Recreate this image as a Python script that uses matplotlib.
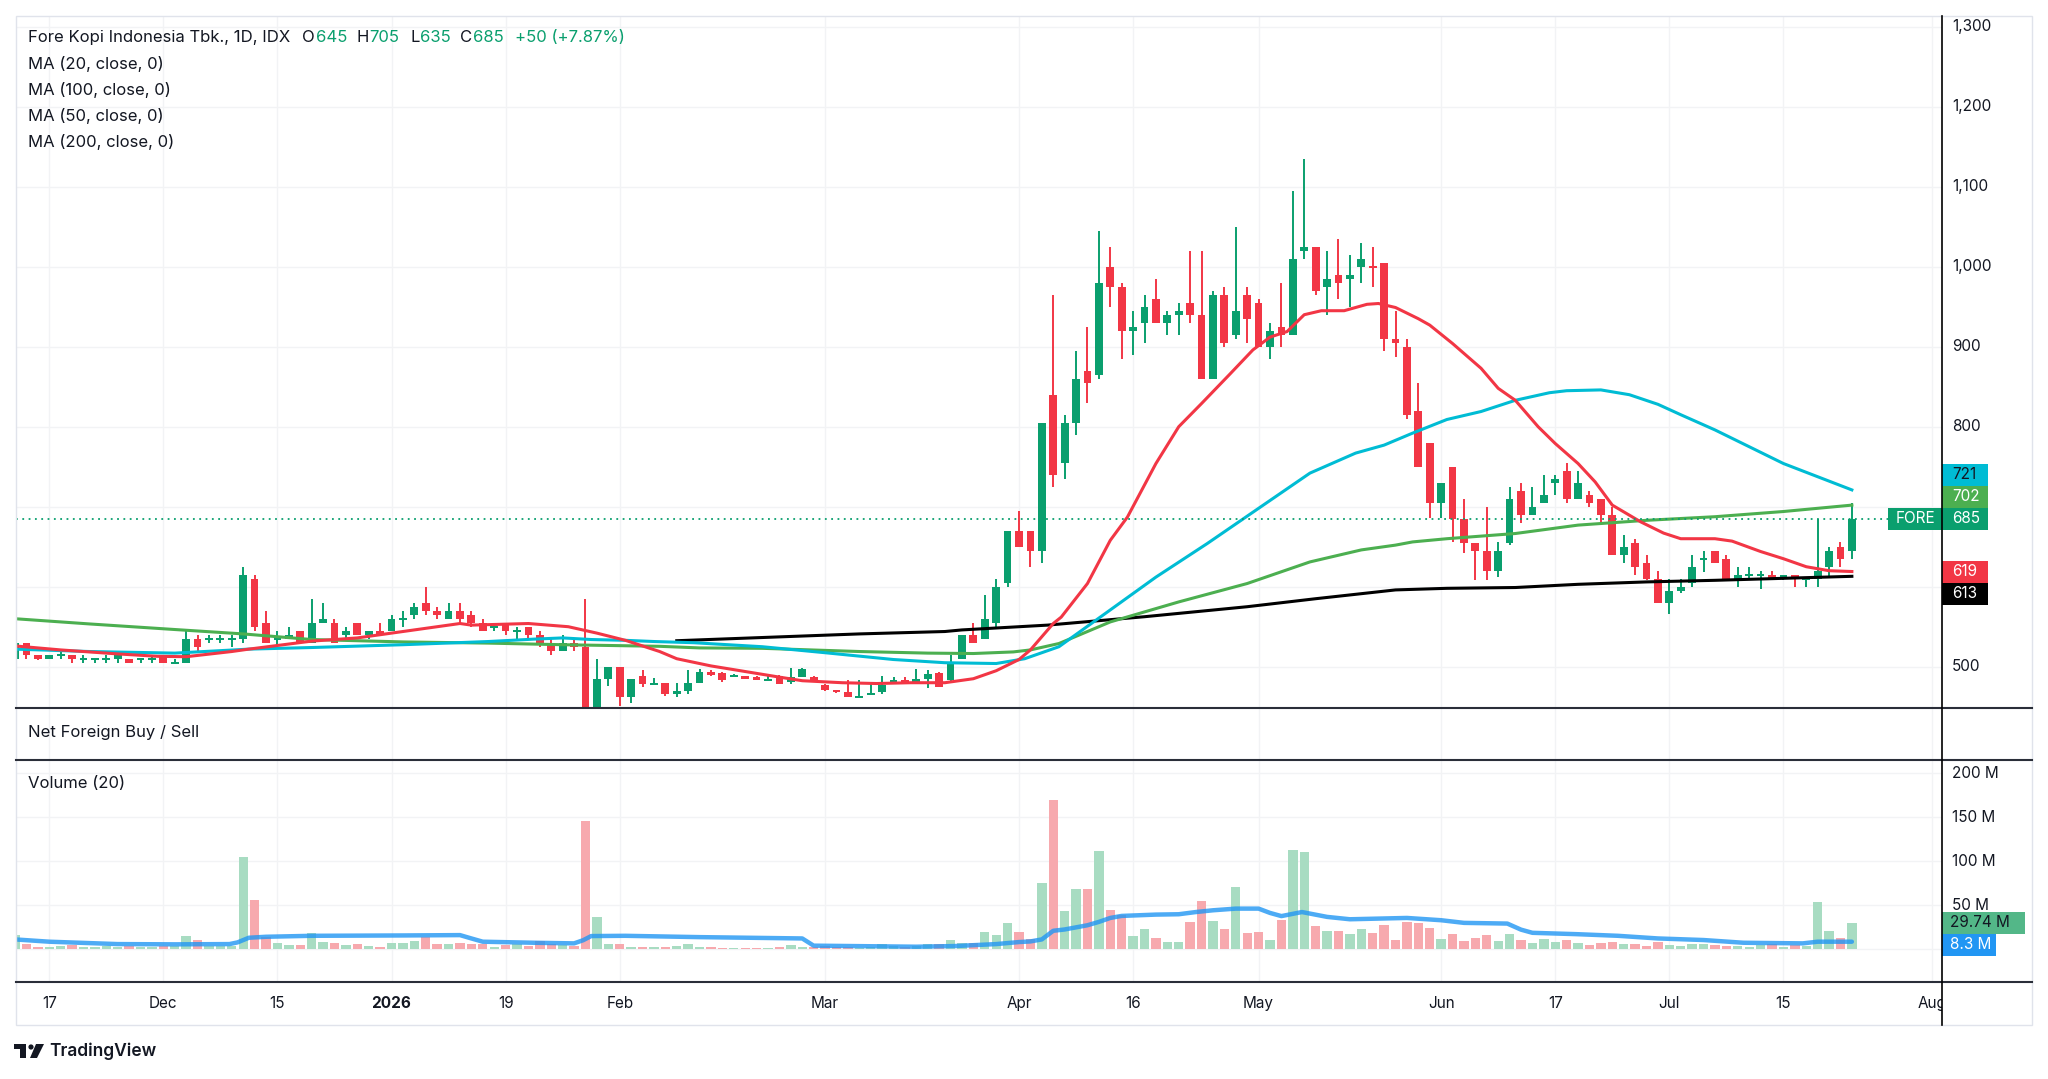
import matplotlib
matplotlib.use("Agg")
import matplotlib.pyplot as plt
from matplotlib.patches import Rectangle, Polygon, Circle
import numpy as np

plt.rcParams['font.family'] = ['Inter', 'DejaVu Sans']

# ---- daily bars, FORE (IDX), Nov 2025 .. Jul 2026 ----
opens = [510, 530, 515, 510, 515, 515, 510, 510, 510, 510,
         510, 510, 510, 515, 505, 505, 535, 535, 535, 535,
         535, 610, 555, 535, 535, 545, 530, 555, 555, 540,
         555, 540, 545, 545, 560, 565, 580, 570, 560, 570,
         565, 555, 550, 555, 545, 550, 540, 530, 520, 530,
         525, 450, 485, 500, 462, 488, 478, 480, 466, 470,
         480, 494, 492, 488, 488, 487, 483, 488, 481, 487,
         487, 477, 470, 468, 462, 466, 468, 481, 484, 481,
         485, 492, 484, 510, 540, 535, 555, 605, 670, 670,
         645, 840, 755, 805, 870, 865, 1000, 975, 920, 930,
         960, 930, 940, 955, 940, 860, 965, 915, 965, 955,
         900, 925, 915, 1020, 1025, 975, 990, 985, 1000, 1000,
         1005, 910, 900, 820, 780, 705, 750, 685, 655, 645,
         620, 655, 720, 690, 705, 730, 745, 710, 715, 710,
         690, 640, 655, 630, 610, 580, 595, 605, 635, 645,
         635, 610, 615, 615, 615, 610, 615, 610, 610, 625,
         650, 645]
highs = [545, 530, 515, 515, 520, 515, 515, 510, 515, 515,
         510, 510, 515, 515, 510, 545, 540, 540, 540, 540,
         625, 615, 570, 545, 550, 545, 585, 580, 560, 550,
         555, 545, 555, 565, 570, 580, 600, 575, 580, 580,
         570, 560, 555, 555, 550, 550, 545, 535, 540, 535,
         585, 510, 500, 500, 485, 496, 486, 480, 480, 496,
         497, 496, 494, 491, 488, 488, 490, 490, 499, 498,
         488, 479, 470, 483, 484, 478, 489, 487, 487, 497,
         496, 493, 515, 540, 555, 590, 610, 670, 695, 670,
         805, 965, 815, 895, 925, 1045, 1025, 980, 945, 965,
         985, 945, 955, 1020, 1020, 970, 975, 1050, 975, 960,
         930, 980, 1095, 1135, 1025, 1020, 1035, 1015, 1030, 1025,
         1005, 945, 910, 855, 780, 730, 750, 710, 655, 700,
         656, 725, 730, 725, 740, 740, 755, 745, 720, 710,
         700, 665, 660, 640, 620, 610, 610, 640, 645, 645,
         640, 625, 625, 620, 620, 615, 615, 612, 685, 650,
         656, 705]
lows = [505, 510, 508, 510, 510, 505, 505, 505, 505, 505,
        505, 505, 505, 505, 505, 505, 520, 530, 530, 525,
        530, 545, 530, 525, 535, 530, 530, 555, 530, 535,
        540, 535, 540, 545, 550, 560, 565, 560, 560, 555,
        550, 545, 545, 540, 535, 535, 525, 515, 520, 520,
        446, 446, 476, 451, 455, 475, 478, 464, 462, 466,
        480, 488, 481, 487, 485, 483, 482, 479, 478, 487,
        484, 470, 467, 462, 462, 466, 466, 481, 480, 481,
        473, 475, 482, 510, 530, 535, 550, 600, 650, 625,
        630, 725, 735, 790, 830, 860, 950, 885, 890, 905,
        930, 915, 915, 930, 860, 860, 900, 910, 905, 900,
        885, 900, 915, 1010, 965, 940, 960, 950, 980, 975,
        895, 887, 810, 750, 686, 686, 656, 642, 608, 608,
        612, 652, 680, 690, 705, 715, 705, 710, 700, 680,
        640, 630, 615, 608, 580, 566, 592, 600, 618, 630,
        610, 600, 608, 597, 610, 608, 600, 600, 600, 612,
        625, 635]
closes = [530, 515, 510, 515, 515, 510, 510, 510, 510, 515,
          505, 510, 510, 505, 505, 535, 525, 535, 535, 535,
          615, 550, 530, 535, 540, 530, 555, 560, 530, 545,
          540, 545, 540, 560, 560, 575, 570, 565, 570, 560,
          555, 545, 550, 545, 545, 540, 530, 520, 530, 525,
          446, 485, 500, 462, 485, 478, 480, 466, 470, 480,
          494, 490, 484, 488, 485, 483, 485, 479, 487, 497,
          484, 471, 468, 462, 464, 468, 477, 484, 480, 485,
          491, 475, 505, 540, 530, 560, 600, 670, 650, 645,
          805, 740, 805, 860, 855, 980, 975, 920, 925, 950,
          930, 940, 945, 940, 860, 965, 905, 945, 935, 900,
          920, 915, 1010, 1025, 970, 985, 980, 990, 1010, 1000,
          910, 905, 815, 750, 705, 730, 685, 655, 645, 620,
          645, 710, 690, 700, 715, 735, 710, 730, 705, 690,
          640, 650, 625, 610, 580, 595, 600, 625, 635, 630,
          610, 615, 615, 615, 610, 615, 610, 610, 620, 645,
          635, 685]
# volume, millions of shares
volumes = [15.8, 6, 2.3, 2.3, 3.8, 4.9, 2.3, 2.3, 3.8, 2.3,
           3.8, 2.3, 2.3, 3, 3, 15, 10, 3.8, 3.8, 3.8,
           105, 55.3, 13.2, 6.8, 4.5, 4.5, 18, 7.9, 6.8, 4.5,
           5.6, 3.4, 2.3, 6.8, 6.8, 8.6, 13.2, 5.6, 5.6, 6.8,
           5.6, 5.6, 2.3, 4.5, 5.6, 3.8, 8.6, 5.6, 4.5, 3.8,
           145.5, 36.5, 6, 5.6, 2.3, 2.3, 2.3, 2.3, 3.4, 5.6,
           2.3, 2.3, 1.5, 1.5, 1.5, 1.5, 1.5, 2.3, 4.5, 2.3,
           2.3, 3, 2.3, 2.3, 1.5, 2.3, 5.6, 3, 2.3, 3,
           5.6, 5.6, 10.2, 6.4, 6.4, 19.6, 15.8, 30, 19.6, 10.9,
           75.2, 169, 42.9, 68.4, 67.7, 111.7, 44, 38.4, 15, 22.9,
           12, 7.9, 7.9, 30.8, 54.5, 31.6, 22.2, 70, 18, 18.8,
           10.2, 33, 112.8, 110.5, 25.9, 19.9, 19.9, 16.5, 22.9, 18,
           27.1, 10.2, 30.5, 29.3, 23.7, 11.3, 16.5, 9.4, 12, 15.8,
           8.6, 16.5, 10.2, 6.8, 11.3, 7.9, 10.2, 6.8, 4.9, 6.8,
           7.9, 6, 5.6, 3.8, 7.9, 4.9, 3.8, 5.6, 5.6, 4.9,
           3.8, 3.8, 2.3, 4.9, 5.6, 2.3, 4.5, 3.8, 53, 19.9,
           12, 29.74]

# moving averages (bar index, value)
ma20_x = [0, 4, 9, 12.5, 15, 19, 20.5, 26, 30, 34, 39, 40, 45, 48.5, 51, 53.5, 56.5, 58, 61, 64, 67, 69,
          72.5, 75.5, 78.5, 81.5, 84, 86, 88, 89, 91, 91.7, 94, 96, 97.5, 100, 102, 104, 106.5, 108.5,
          110, 111.5, 113, 114.5, 116.5, 118.5, 119.5, 121, 123, 124, 126, 128.5, 130, 131.5, 133.5, 135,
          137, 138.5, 140, 142.5, 144.5, 146, 149, 150.5, 153, 155, 157, 159, 161]
ma20_y = [526, 521, 516, 513, 512.5, 519, 522, 532, 536, 544, 554, 552, 554, 550, 542, 533, 519, 510, 501, 494,
          487, 482.5, 480, 479, 480, 480, 485, 495, 509, 521, 554, 562, 604, 658, 687, 754, 800, 829, 866,
          896, 912, 919, 940, 945, 945, 953, 954, 949, 935, 927, 904, 873, 848, 833, 800, 779, 754, 731, 702,
          681, 667, 660, 660, 657, 644, 635, 625, 620, 619]
ma50_x = [0, 6.5, 14, 20.5, 26, 34, 41.5, 45.5, 48, 50.5, 53.5, 56, 59.5, 65.5, 71, 77, 81.5, 86, 88.5, 91.5,
          96, 100, 104.5, 109, 113.5, 117.5, 120, 122.5, 125.5, 128.5, 131.5, 134.5, 136, 139, 141.5, 144,
          146, 149, 152, 155, 158, 161]
ma50_y = [522, 519, 517, 522, 524, 527.5, 531.5, 534.5, 536, 534, 533, 531.5, 530, 525, 517.5, 509, 505, 504,
          510, 525, 571, 612, 654, 698, 742, 767, 777, 792, 809, 819, 833, 842.5, 845, 846, 840, 828, 815,
          796, 775, 754, 737.5, 721]
ma100_x = [0, 6.5, 14, 20, 26, 34, 41.5, 48, 56.5, 60, 65.5, 74, 80, 84, 87.5, 89, 91.5, 96, 102, 108, 113.5,
           118, 121, 122.5, 125.5, 131.5, 137, 143, 149, 155, 161]
ma100_y = [560, 553.5, 546.5, 541, 534, 531, 529.5, 527.5, 525.5, 523.5, 523, 519, 517, 516.5, 518.5, 521, 529,
           556, 581, 604, 631, 646, 652, 656, 660, 666.5, 677, 683, 687.5, 694, 702]
ma200_x = [58, 65.5, 74, 81.5, 83, 90.5, 99, 108, 114, 121, 125.5, 131.5, 137, 143, 149, 155, 161]
ma200_y = [532.5, 536.5, 541, 544, 546, 552, 562.5, 575, 585, 596, 598, 599, 603, 606, 608, 610.5, 613]
volma_x = [0, 3, 9, 14, 18.8, 19.5, 20.5, 22, 26, 34, 39, 40, 41, 45.5, 49, 49.8, 50.5, 53.5, 60, 69, 70, 79,
           82.5, 86, 88, 89, 90, 91, 92, 94, 95, 96, 97, 100, 102, 103.5, 105, 107, 109, 110, 111, 112.8,
           115, 117, 122, 125, 127, 130.8, 132, 133, 136.8, 140.5, 144, 148, 151.5, 156.7, 158, 161]
volma_y = [10.9, 8.3, 5.6, 5.3, 5.6, 7.5, 12.8, 13.9, 15, 15.4, 15.8, 12, 8.3, 7.1, 6.4, 10, 14.7, 15, 13.5,
           12, 3.8, 2.6, 3.4, 5.6, 7.9, 8.6, 10.9, 20.7, 22.2, 27, 30.8, 35.3, 37.6, 39.1, 39.5, 42, 44,
           45.9, 45.9, 41, 37.4, 42, 36.5, 33.8, 35.3, 32.7, 29.7, 28.9, 22, 18.4, 16.9, 15, 12, 10.2, 7.1,
           6.4, 8.3, 8.3]

tick_bars = [3, 13, 23, 33, 43, 53, 71, 88, 98, 109, 125, 135, 145, 155, 168]
tick_text = ['17', 'Dec', '15', '2026', '19', 'Feb', 'Mar', 'Apr', '16', 'May', 'Jun', '17', 'Jul', '15', 'Aug']
price_grid = [500, 600, 700, 800, 900, 1000, 1100, 1200, 1300]
price_labels = [500, 800, 900, 1000, 1100, 1200, 1300]
vol_grid = [0, 50, 100, 150, 200]

UP = '#0A9F6E'
DN = '#F23645'
VUP = '#A8DCC2'
VDN = '#F7A9AE'
TXT = '#131722'
GRID = '#F2F3F5'
C20, C50, C100, C200 = '#F23645', '#00BCD4', '#4CAF50', '#000000'

W, H = 2048, 1079
L, R = 15.7, 1942
XMIN, XMAX = 0.06, 168.9
FS = 12


def box(x0, y0, x1, y1):
    return [x0 / W, 1 - y1 / H, (x1 - x0) / W, (y1 - y0) / H]


fig = plt.figure(figsize=(W / 100, H / 100), dpi=100)
fig.patch.set_facecolor('white')

ax = fig.add_axes(box(L, 15.7, R, 708))
axn = fig.add_axes(box(L, 708, R, 760))
axv = fig.add_axes(box(L, 760, R, 982))
axd = fig.add_axes(box(L, 982, R, 1025))
axr = fig.add_axes(box(R, 15.7, 2032, 708))
axrv = fig.add_axes(box(R, 760, 2032, 982))

for a in (ax, axn, axv, axd, axr, axrv):
    a.set_xticks([])
    a.set_yticks([])
    for s in a.spines.values():
        s.set_visible(False)
    a.set_facecolor('none')

for a in (ax, axn, axv, axd):
    a.set_xlim(XMIN, XMAX)
ax.set_ylim(448.4, 1313.75)
axr.set_ylim(448.4, 1313.75)
axr.set_xlim(0, 90)
axv.set_ylim(-37.5, 214.8)
axrv.set_ylim(-37.5, 214.8)
axrv.set_xlim(0, 90)
axn.set_ylim(0, 1)
axd.set_ylim(0, 1)

# grid
for a in (ax, axn, axv):
    for b in tick_bars:
        a.axvline(b, color=GRID, lw=1, zorder=0)
for p in price_grid:
    ax.axhline(p, color=GRID, lw=1, zorder=0)
for v in vol_grid:
    axv.axhline(v, color=GRID, lw=1, zorder=0)

# candles
o = np.array(opens, float)
hi = np.array(highs, float)
lo = np.array(lows, float)
c = np.array(closes, float)
n = len(c)
x = np.arange(n)
up = []
for i in range(n):
    if c[i] > o[i]:
        up.append(True)
    elif c[i] < o[i]:
        up.append(False)
    else:
        up.append(i == 0 or c[i] >= c[i - 1])
cols = [UP if u else DN for u in up]
vcols = [VUP if u else VDN for u in up]

body_h = np.abs(c - o)
doji = body_h < 2.5
body_lo = np.where(doji, o - 1.25, np.minimum(o, c))
body_h = np.where(doji, 2.5, body_h)
ax.vlines(x, lo, hi, colors=cols, lw=1.4, zorder=2)
ax.bar(x, body_h, bottom=body_lo, width=0.68, color=cols, lw=0, zorder=3)

# moving averages
ax.plot(ma200_x, ma200_y, color=C200, lw=2.2, zorder=4)
ax.plot(ma100_x, ma100_y, color=C100, lw=2.2, zorder=4)
ax.plot(ma50_x, ma50_y, color=C50, lw=2.2, zorder=4)
ax.plot(ma20_x, ma20_y, color=C20, lw=2.2, zorder=5)

# volume
axv.bar(x, volumes, width=0.82, color=vcols, lw=0, zorder=2)
axv.plot(volma_x, volma_y, color='#2196F3', lw=3.2, alpha=0.8, zorder=3,
         solid_capstyle='round')

# price scale labels
for p in price_labels:
    axr.text(10, p, f'{p:,}', color=TXT, fontsize=11, va='center', ha='left')
for v in [50, 100, 150, 200]:
    axrv.text(10, v, f'{v} M', color=TXT, fontsize=11, va='center', ha='left')

# last-value boxes, pushed apart like the price scale does
last = closes[-1]
bh = 22 / 0.8
labels = [(ma50_y[-1], C50, TXT), (ma100_y[-1], C100, 'white'),
          (ma20_y[-1], C20, 'white'), (ma200_y[-1], C200, 'white')]
above = sorted([l for l in labels if l[0] > last], key=lambda t: t[0])
below = sorted([l for l in labels if l[0] <= last], key=lambda t: -t[0])
placed = []
prev = last
for v, fc, tc in above:
    prev = max(v, prev + bh)
    placed.append((prev, v, fc, tc))
prev = last
for v, fc, tc in below:
    prev = min(v, prev - bh)
    placed.append((prev, v, fc, tc))
placed.append((last, last, UP, 'white'))
for pos, v, fc, tc in placed:
    axr.add_patch(Rectangle((0, pos - bh / 2), 46, bh, color=fc, lw=0, zorder=5))
    axr.text(10, pos, f'{v:.0f}', color=tc, fontsize=11, va='center', ha='left', zorder=6)

bar_px = (R - L) / (XMAX - XMIN)
fore_x0 = XMAX - 54 / bar_px
ax.add_patch(Rectangle((fore_x0, last - bh / 2), XMAX - fore_x0, bh, color=UP, lw=0,
                       zorder=7, clip_on=False))
ax.text((fore_x0 + XMAX) / 2, last, 'FORE', color='white', fontsize=11, va='center',
        ha='center', zorder=8)
ax.hlines(last, XMIN, fore_x0, colors=UP, lw=1.3, linestyles=(0, (1, 2.5)), zorder=6)

# volume last-value boxes
vb = 22 / 0.88
v_last = volumes[-1]
v_ma = min(volma_y[-1], v_last - vb)
axrv.add_patch(Rectangle((0, v_last - vb / 2), 83, vb, color='#53B788', lw=0, zorder=5))
axrv.text(8, v_last, f'{v_last:.2f} M', color=TXT, fontsize=11, va='center', ha='left', zorder=6)
axrv.add_patch(Rectangle((0, v_ma - vb / 2), 54, vb, color='#2196F3', lw=0, zorder=5))
axrv.text(8, v_ma, f'{volma_y[-1]:.1f} M', color='white', fontsize=11, va='center', ha='left', zorder=6)

# date axis
for b, t in zip(tick_bars, tick_text):
    axd.text(b, 0.5, t, color=TXT, fontsize=11, ha='center', va='center',
             fontweight='bold' if t == '2026' else 'normal', clip_on=True)

# overlay: frame, separators, legend texts, logo
ov = fig.add_axes([0, 0, 1, 1])
ov.set_xlim(0, W)
ov.set_ylim(H, 0)
ov.axis('off')
ov.add_patch(Rectangle((L, 15.7), 2032 - L, 1025 - 15.7, fill=False, ec='#E0E3EB', lw=1))
for yy in (708, 760, 982):
    ov.plot([L, 2032], [yy, yy], color='#2A2E39', lw=1.5)
ov.plot([R, R], [15.7, 1025], color='#000000', lw=1.2)

hdr = [(27.7, 'Fore Kopi Indonesia Tbk., 1D, IDX', TXT), (302, 'O', TXT), (315.6, '645', UP),
       (357, 'H', TXT), (369.6, '705', UP), (410.7, 'L', TXT), (419.6, '635', UP),
       (459.8, 'C', TXT), (473.2, '685', UP), (514.7, '+50 (+7.87%)', UP)]
for xx, s, col in hdr:
    ov.text(xx, 37.7, s, color=col, fontsize=FS, va='center', ha='left')
for yy, s in zip([64.3, 90, 116, 141.7],
                 ['MA (20, close, 0)', 'MA (100, close, 0)', 'MA (50, close, 0)', 'MA (200, close, 0)']):
    ov.text(27.7, yy, s, color=TXT, fontsize=FS, va='center', ha='left')
ov.text(27.7, 733, 'Net Foreign Buy / Sell', color=TXT, fontsize=FS, va='center', ha='left')
ov.text(27.7, 784, 'Volume (20)', color=TXT, fontsize=FS, va='center', ha='left')

# TradingView logo
ov.add_patch(Rectangle((14, 1044), 12, 5, color=TXT, lw=0))
ov.add_patch(Rectangle((20, 1044), 6, 14, color=TXT, lw=0))
ov.add_patch(Circle((31, 1047), 2.6, color=TXT, lw=0))
ov.add_patch(Polygon([(36, 1044), (44, 1044), (37, 1058), (30, 1058)], color=TXT, lw=0))
ov.text(49, 1051, 'TradingView', color=TXT, fontsize=12.5, fontweight='semibold',
        va='center', ha='left')

fig.savefig('out.png', dpi=100, facecolor='white')
